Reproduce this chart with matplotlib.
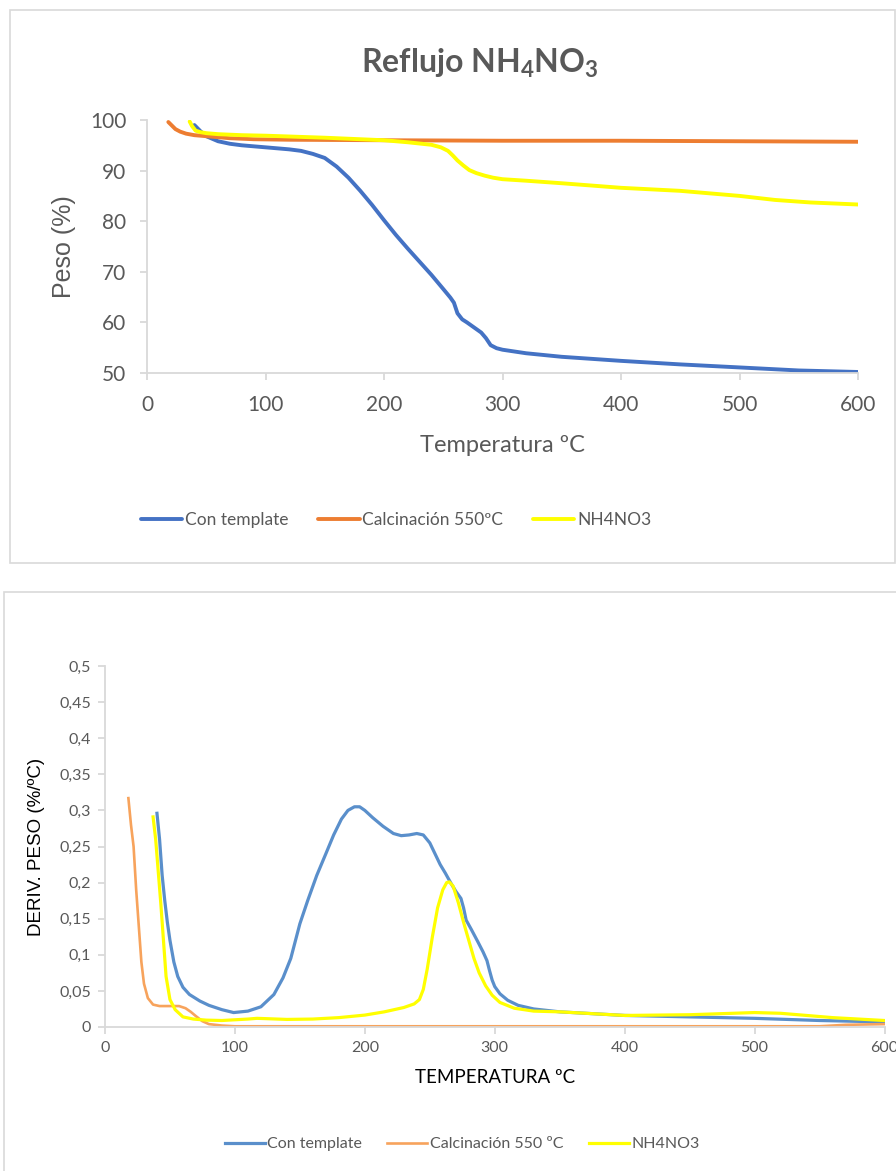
import matplotlib
matplotlib.use("Agg")
import matplotlib.pyplot as plt
from matplotlib.patches import Rectangle
from matplotlib.ticker import FuncFormatter, MultipleLocator

NARROW = ['Lato', 'DejaVu Sans']
WIDE = ['Liberation Sans', 'DejaVu Sans']
plt.rcParams['font.family'] = NARROW
plt.rcParams['mathtext.fontset'] = 'custom'
plt.rcParams['mathtext.rm'] = 'Lato:bold'
plt.rcParams['mathtext.bf'] = 'Lato:bold'

# ---------------- data: top chart (weight %) ----------------
series_names_top = ["Con template", "Calcinación 550ºC", "NH4NO3"]
t_con = [40, 45, 50, 60, 70, 80, 100, 120, 130, 140, 150, 160, 170, 180, 190, 200, 210, 220,
         230, 240, 250, 256, 259, 262, 266, 270, 276, 282, 286, 290, 295, 300, 320, 350, 400,
         450, 500, 550, 600]
w_con = [99.0, 97.8, 96.8, 95.8, 95.3, 95.0, 94.6, 94.2, 93.9, 93.3, 92.5, 90.8, 88.6, 86.0,
         83.2, 80.2, 77.3, 74.6, 72.0, 69.4, 66.6, 64.9, 63.9, 61.8, 60.6, 60.0, 59.0, 58.0,
         56.9, 55.5, 54.9, 54.6, 53.9, 53.2, 52.4, 51.7, 51.1, 50.5, 50.2]
t_calc = [18, 21, 24, 28, 33, 40, 55, 70, 90, 120, 200, 300, 400, 500, 600]
w_calc = [99.6, 98.9, 98.2, 97.7, 97.3, 97.0, 96.7, 96.4, 96.2, 96.1, 96.0, 95.9, 95.9, 95.8, 95.7]
t_nh4 = [36, 38, 41, 45, 50, 60, 80, 100, 150, 200, 220, 240, 248, 254, 258, 262, 267, 272,
         278, 285, 292, 300, 320, 350, 400, 450, 500, 530, 560, 600]
w_nh4 = [99.7, 98.8, 97.9, 97.6, 97.4, 97.2, 97.0, 96.9, 96.5, 96.0, 95.6, 95.1, 94.6, 93.9,
         93.0, 92.0, 91.0, 90.1, 89.5, 89.0, 88.6, 88.3, 88.0, 87.5, 86.6, 86.0, 85.0, 84.2,
         83.7, 83.3]

# ---------------- data: bottom chart (derivative) ----------------
series_names_bot = ["Con template", "Calcinación 550 ºC", "NH4NO3"]
td_con = [40, 42, 44, 46, 48, 50, 53, 56, 60, 65, 73, 80, 90, 99, 110, 120, 130, 137, 143,
          150, 156, 163, 170, 176, 182, 187, 192, 196, 200, 206, 214, 222, 228, 234, 240, 245,
          250, 254, 258, 262, 266, 270, 274, 276, 278, 282, 287, 291, 294, 296, 298, 300, 304,
          310, 318, 330, 350, 400, 450, 500, 550, 600]
d_con = [0.296, 0.26, 0.21, 0.175, 0.145, 0.12, 0.09, 0.07, 0.055, 0.045, 0.036, 0.03, 0.024,
         0.020, 0.022, 0.028, 0.045, 0.068, 0.095, 0.143, 0.175, 0.21, 0.24, 0.266, 0.288, 0.3,
         0.305, 0.305, 0.3, 0.29, 0.278, 0.268, 0.265, 0.266, 0.268, 0.266, 0.255, 0.24, 0.225,
         0.213, 0.2, 0.188, 0.178, 0.165, 0.148, 0.135, 0.118, 0.104, 0.092, 0.078, 0.065,
         0.056, 0.046, 0.037, 0.03, 0.025, 0.021, 0.016, 0.014, 0.012, 0.009, 0.007]
td_calc = [18, 20, 22, 24, 26, 28, 30, 33, 37, 42, 50, 57, 62, 66, 70, 75, 80, 90, 100, 150,
           200, 300, 400, 500, 550, 570, 600]
d_calc = [0.317, 0.28, 0.25, 0.19, 0.14, 0.09, 0.06, 0.04, 0.031, 0.029, 0.029, 0.029, 0.026,
          0.021, 0.015, 0.008, 0.004, 0.002, 0.001, 0.001, 0.001, 0.001, 0.001, 0.001, 0.001,
          0.003, 0.004]
td_nh4 = [37, 39, 41, 43, 45, 47, 50, 54, 60, 68, 78, 90, 100, 110, 117, 125, 140, 160, 180,
          200, 215, 230, 238, 242, 245, 248, 252, 256, 260, 263, 265, 268, 272, 276, 280, 284,
          288, 293, 298, 304, 315, 330, 350, 400, 450, 500, 520, 540, 560, 600]
d_nh4 = [0.291, 0.26, 0.215, 0.17, 0.12, 0.07, 0.038, 0.024, 0.014, 0.011, 0.0095, 0.009,
         0.01, 0.011, 0.012, 0.0115, 0.0105, 0.011, 0.013, 0.0165, 0.021, 0.027, 0.032, 0.038,
         0.052, 0.08, 0.125, 0.165, 0.19, 0.2, 0.201, 0.195, 0.172, 0.145, 0.12, 0.095, 0.075,
         0.057, 0.044, 0.034, 0.026, 0.022, 0.021, 0.016, 0.017, 0.02, 0.019, 0.016, 0.013,
         0.009]

W, H = 896, 1171
fig = plt.figure(figsize=(W / 100, H / 100), dpi=100)
fig.patch.set_facecolor('white')


def ax_px(l, t, r, b):
    return fig.add_axes([l / W, 1 - b / H, (r - l) / W, (b - t) / H])


GRID = '#D9D9D9'
TXT = '#595959'

# panel borders
fig.patches.append(Rectangle((9.5 / W, 1 - 563.5 / H), (895 - 9.5) / W, (563.5 - 10.5) / H,
                             transform=fig.transFigure, fill=False, ec=GRID, lw=1.2))
fig.patches.append(Rectangle((3.5 / W, 1 - 1180 / H), (910 - 3.5) / W, (1180 - 591.5) / H,
                             transform=fig.transFigure, fill=False, ec=GRID, lw=1.2))


def style_axes(ax):
    for s in ['top', 'right']:
        ax.spines[s].set_visible(False)
    for s in ['left', 'bottom']:
        ax.spines[s].set_color(GRID)
        ax.spines[s].set_linewidth(1.3)
    ax.tick_params(axis='both', color=GRID, direction='out', length=5, width=1.3)


# ---------------- top chart ----------------
ax1 = ax_px(147, 120, 858, 373)
style_axes(ax1)
l1, = ax1.plot(t_con, w_con, color='#4472C4', lw=2.8, solid_capstyle='round', label=series_names_top[0])
l2, = ax1.plot(t_calc, w_calc, color='#ED7D31', lw=2.8, solid_capstyle='round', label=series_names_top[1])
l3, = ax1.plot(t_nh4, w_nh4, color='#FFFF00', lw=2.8, solid_capstyle='round', label=series_names_top[2])
ax1.set_xlim(0, 600)
ax1.set_ylim(50, 100)
ax1.xaxis.set_major_locator(MultipleLocator(100))
ax1.yaxis.set_major_locator(MultipleLocator(10))
ax1.tick_params(axis='both', labelsize=15, labelcolor=TXT)
ax1.tick_params(axis='x', pad=11)
ax1.tick_params(axis='y', pad=10)
ax1.set_xlabel('Temperatura ºC', fontsize=17, color=TXT, labelpad=14)
ax1.set_ylabel('Peso (%)', fontsize=18, color=TXT, family=WIDE, labelpad=10)
fig.text(480 / W, 1 - 63 / H, r'Reflujo NH$_\mathbf{4}$NO$_\mathbf{3}$', ha='center', va='center',
         fontsize=23, fontweight='bold', color=TXT)
fig.legend(handles=[l1, l2, l3], loc='center', bbox_to_anchor=(396 / W, 1 - 520 / H), ncol=3,
           frameon=False, fontsize=12.5, labelcolor=TXT, handlelength=2.4, handletextpad=0.15,
           columnspacing=1.7)

# ---------------- bottom chart ----------------
ax2 = ax_px(105, 666, 884.5, 1027)
style_axes(ax2)
m1, = ax2.plot(td_con, d_con, color='#5A8FCB', lw=2.3, label=series_names_bot[0])
m2, = ax2.plot(td_calc, d_calc, color='#F7A35C', lw=1.9, label=series_names_bot[1])
m3, = ax2.plot(td_nh4, d_nh4, color='#FFFF00', lw=2.3, label=series_names_bot[2])
ax2.set_xlim(0, 600)
ax2.set_ylim(0, 0.5)
ax2.xaxis.set_major_locator(MultipleLocator(100))
ax2.yaxis.set_major_locator(MultipleLocator(0.05))
ax2.yaxis.set_major_formatter(FuncFormatter(lambda v, p: ('%g' % round(v, 2)).replace('.', ',')))
ax2.tick_params(axis='both', labelsize=11.5, labelcolor=TXT, pad=5)
ax2.set_xlabel('TEMPERATURA ºC', fontsize=13.5, color='black', labelpad=10)
ax2.set_ylabel('DERIV. PESO (%/ºC)', fontsize=13.5, color='black', family=WIDE, labelpad=10)
fig.legend(handles=[m1, m2, m3], loc='center', bbox_to_anchor=(462 / W, 1 - 1144 / H), ncol=3,
           frameon=False, fontsize=11.5, labelcolor=TXT, handlelength=2.5, handletextpad=0.15,
           columnspacing=1.6)

fig.savefig('out.png', dpi=100)
